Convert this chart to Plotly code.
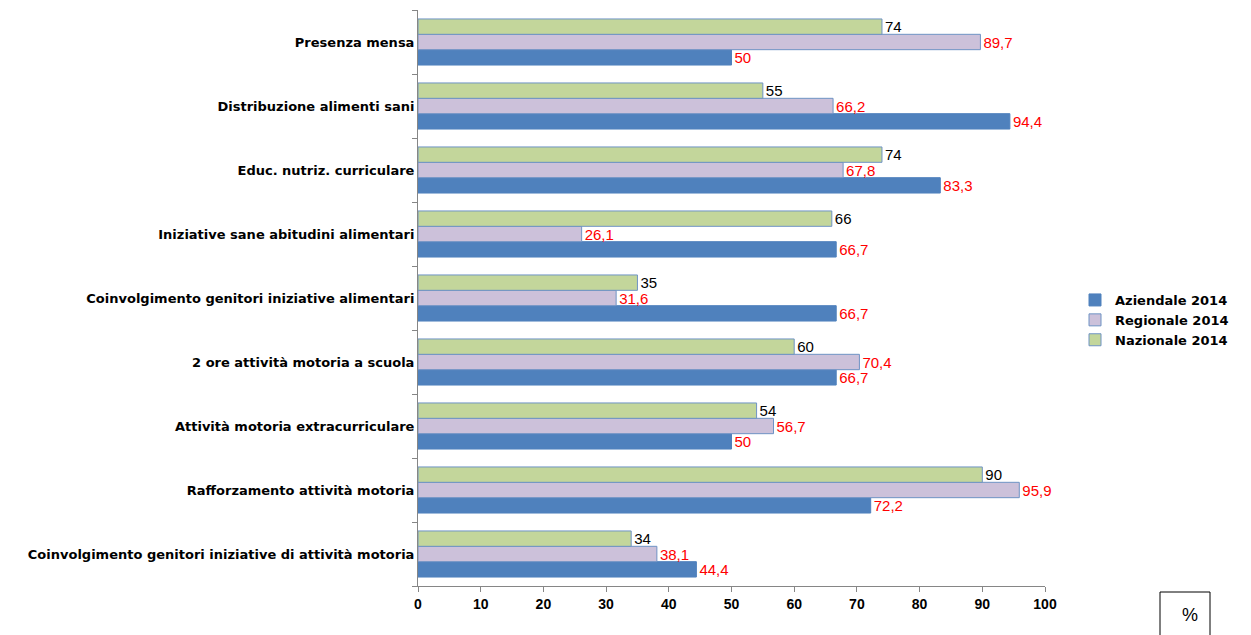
import plotly.graph_objects as go

categories = [
    "Presenza mensa",
    "Distribuzione alimenti sani",
    "Educ. nutriz. curriculare",
    "Iniziative sane abitudini alimentari",
    "Coinvolgimento genitori iniziative alimentari",
    "2 ore attività motoria a scuola",
    "Attività motoria extracurriculare",
    "Rafforzamento attività motoria",
    "Coinvolgimento genitori iniziative di attività motoria",
]
aziendale = [50, 94.4, 83.3, 66.7, 66.7, 66.7, 50, 72.2, 44.4]
regionale = [89.7, 66.2, 67.8, 26.1, 31.6, 70.4, 56.7, 95.9, 38.1]
nazionale = [74, 55, 74, 66, 35, 60, 54, 90, 34]
x_ticks = [0, 10, 20, 30, 40, 50, 60, 70, 80, 90, 100]

def fmt(v):
    return ("%g" % v).replace(".", ",")

cats = categories[::-1]
series = [
    ("Aziendale 2014", aziendale[::-1], "#4F81BD", "#4F81BD", "#FF0000"),
    ("Regionale 2014", regionale[::-1], "#CCC1DA", "#6F93C4", "#FF0000"),
    ("Nazionale 2014", nazionale[::-1], "#C3D69B", "#6F93C4", "#000000"),
]

# screen geometry of the plot area (the page body adds an 8px offset)
PX0, PX1, PY0, PY1 = 418, 1045, 10, 586
def px(x):
    return (x - PX0) / (PX1 - PX0)
def py(y):
    return (PY1 - y) / (PY1 - PY0)

fig = go.Figure()
lab_font = "Liberation Sans Narrow, Arial Narrow, Liberation Sans, sans-serif"
for name, vals, fill, line, tcol in series:
    fig.add_trace(go.Bar(
        y=cats, x=vals, name=name, orientation="h",
        marker=dict(color=fill, line=dict(color=line, width=1)),
        text=[fmt(v) for v in vals], textposition="outside",
        constraintext="none",
        textfont=dict(color=tcol, size=15, family=lab_font),
        cliponaxis=False,
    ))

fig.update_layout(
    width=1243, height=627,
    margin=dict(l=410, r=206, t=2, b=49),
    barmode="group", bargap=0.28, bargroupgap=0,
    plot_bgcolor="white", paper_bgcolor="white",
    font=dict(family="Liberation Sans, Arial, sans-serif", color="black"),
    showlegend=True,
    legend=dict(x=px(1075), y=py(320), xanchor="left", yanchor="middle",
                font=dict(size=13, family="DejaVu Sans, sans-serif", weight="bold"),
                itemwidth=30, tracegroupgap=0),
    xaxis=dict(range=[0, 100], tickvals=x_ticks, ticks="outside", ticklen=5,
               tickcolor="#868686", showline=True, linecolor="#868686",
               showgrid=False, zeroline=False,
               tickfont=dict(size=14, weight="bold")),
    yaxis=dict(categoryorder="array", categoryarray=cats, ticks="outside",
               tickson="boundaries", ticklen=5, tickcolor="#868686",
               showline=True, linecolor="#868686", showgrid=False,
               tickfont=dict(size=13, family="DejaVu Sans, sans-serif", weight="bold")),
    shapes=[dict(type="rect", xref="paper", yref="paper",
                 x0=px(1160), x1=px(1210), y0=py(640), y1=py(592),
                 line=dict(color="black", width=1))],
    annotations=[dict(text="%", xref="paper", yref="paper",
                      x=px(1190), y=py(615), xanchor="center", yanchor="middle",
                      showarrow=False,
                      font=dict(size=18, family=lab_font))],
)

fig.write_html("out.html")
